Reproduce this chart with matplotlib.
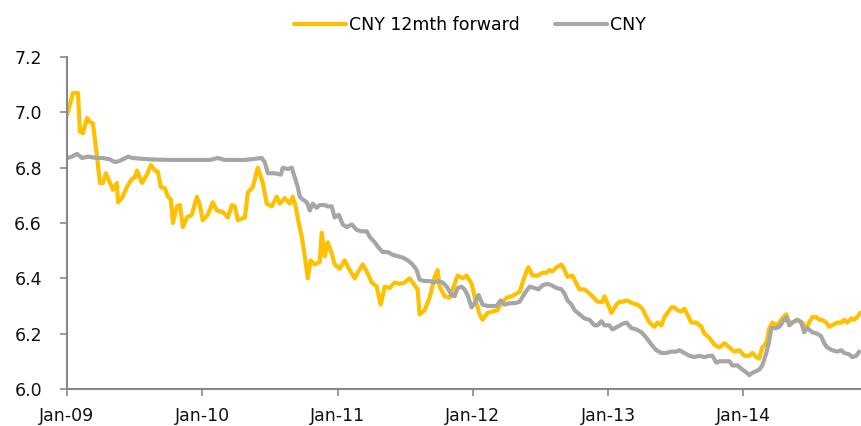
import matplotlib
matplotlib.use("Agg")
from matplotlib import pyplot as plt

# decimal years (weekly-ish readings)
fwd_t = [2009.000, 2009.044, 2009.081, 2009.096, 2009.118, 2009.148, 2009.170, 2009.192,
         2009.222, 2009.244, 2009.266, 2009.288, 2009.318, 2009.340, 2009.369, 2009.377,
         2009.406, 2009.443, 2009.480, 2009.502, 2009.517, 2009.554, 2009.591, 2009.620,
         2009.650, 2009.672, 2009.694, 2009.724, 2009.746, 2009.768, 2009.783, 2009.812,
         2009.835, 2009.857, 2009.886, 2009.923, 2009.960, 2009.982, 2010.004, 2010.041,
         2010.078, 2010.108, 2010.152, 2010.189, 2010.219, 2010.241, 2010.263, 2010.315,
         2010.337, 2010.374, 2010.411, 2010.448, 2010.477, 2010.514, 2010.551, 2010.573,
         2010.610, 2010.647, 2010.669, 2010.691, 2010.713, 2010.736, 2010.758, 2010.780,
         2010.802, 2010.832, 2010.869, 2010.883, 2010.905, 2010.928, 2010.957, 2010.979,
         2011.016, 2011.053, 2011.090, 2011.127, 2011.149, 2011.186, 2011.216, 2011.253,
         2011.290, 2011.319, 2011.349, 2011.386, 2011.422, 2011.459, 2011.496, 2011.533,
         2011.570, 2011.592, 2011.607, 2011.644, 2011.681, 2011.718, 2011.740, 2011.755,
         2011.792, 2011.829, 2011.866, 2011.888, 2011.925, 2011.954, 2011.991, 2012.013,
         2012.050, 2012.072, 2012.109, 2012.146, 2012.183, 2012.213, 2012.250, 2012.287,
         2012.324, 2012.346, 2012.368, 2012.397, 2012.412, 2012.442, 2012.479, 2012.516,
         2012.545, 2012.567, 2012.589, 2012.619, 2012.656, 2012.678, 2012.700, 2012.737,
         2012.767, 2012.789, 2012.826, 2012.863, 2012.885, 2012.922, 2012.959, 2012.973,
         2012.996, 2013.025, 2013.062, 2013.084, 2013.106, 2013.143, 2013.180, 2013.217,
         2013.254, 2013.284, 2013.306, 2013.343, 2013.365, 2013.394, 2013.417, 2013.439,
         2013.468, 2013.490, 2013.513, 2013.542, 2013.564, 2013.586, 2013.616, 2013.653,
         2013.690, 2013.712, 2013.749, 2013.786, 2013.823, 2013.860, 2013.897, 2013.934,
         2013.971, 2014.007, 2014.044, 2014.067, 2014.096, 2014.118, 2014.140, 2014.170,
         2014.192, 2014.214, 2014.244, 2014.266, 2014.288, 2014.318, 2014.340, 2014.362,
         2014.399, 2014.436, 2014.465, 2014.487, 2014.510, 2014.539, 2014.561, 2014.583,
         2014.613, 2014.635, 2014.657, 2014.694, 2014.724, 2014.746, 2014.768, 2014.798,
         2014.820, 2014.842, 2014.864]
fwd = [6.99, 7.07, 7.07, 6.93, 6.925, 6.98, 6.965, 6.96,
       6.84, 6.745, 6.745, 6.78, 6.745, 6.72, 6.745, 6.675,
       6.69, 6.73, 6.76, 6.765, 6.79, 6.745, 6.775, 6.81,
       6.79, 6.785, 6.73, 6.725, 6.695, 6.685, 6.60, 6.66,
       6.665, 6.585, 6.62, 6.63, 6.695, 6.665, 6.61, 6.63,
       6.675, 6.645, 6.64, 6.62, 6.665, 6.66, 6.61, 6.62,
       6.71, 6.73, 6.80, 6.745, 6.67, 6.66, 6.695, 6.67,
       6.69, 6.67, 6.695, 6.66, 6.60, 6.55, 6.48, 6.40,
       6.465, 6.45, 6.46, 6.565, 6.48, 6.53, 6.49, 6.45,
       6.435, 6.465, 6.43, 6.40, 6.42, 6.45, 6.425, 6.385,
       6.37, 6.305, 6.37, 6.365, 6.385, 6.38, 6.385, 6.40,
       6.375, 6.36, 6.27, 6.285, 6.33, 6.405, 6.43, 6.37,
       6.335, 6.33, 6.38, 6.41, 6.40, 6.41, 6.38, 6.335,
       6.27, 6.25, 6.275, 6.28, 6.285, 6.31, 6.33, 6.335,
       6.345, 6.35, 6.385, 6.425, 6.44, 6.41, 6.41, 6.42,
       6.42, 6.43, 6.425, 6.44, 6.45, 6.43, 6.405, 6.41,
       6.38, 6.36, 6.36, 6.345, 6.335, 6.315, 6.315, 6.335,
       6.31, 6.275, 6.305, 6.315, 6.315, 6.32, 6.31, 6.305,
       6.29, 6.26, 6.24, 6.225, 6.24, 6.23, 6.26, 6.275,
       6.295, 6.295, 6.285, 6.28, 6.29, 6.27, 6.24, 6.24,
       6.225, 6.20, 6.185, 6.16, 6.15, 6.165, 6.15, 6.135,
       6.14, 6.12, 6.12, 6.13, 6.115, 6.11, 6.15, 6.165,
       6.22, 6.24, 6.23, 6.24, 6.255, 6.27, 6.24, 6.24,
       6.25, 6.24, 6.22, 6.24, 6.26, 6.26, 6.25, 6.25,
       6.24, 6.225, 6.23, 6.24, 6.24, 6.25, 6.24, 6.255,
       6.25, 6.26, 6.275]

spot_t = [2009.000, 2009.037, 2009.074, 2009.111, 2009.155, 2009.222, 2009.266, 2009.318,
          2009.355, 2009.391, 2009.451, 2009.487, 2009.613, 2009.761, 2009.908, 2010.056,
          2010.115, 2010.167, 2010.315, 2010.440, 2010.462, 2010.485, 2010.536, 2010.581,
          2010.595, 2010.632, 2010.662, 2010.684, 2010.706, 2010.721, 2010.743, 2010.773,
          2010.795, 2010.817, 2010.846, 2010.869, 2010.905, 2010.928, 2010.957, 2010.979,
          2011.009, 2011.038, 2011.068, 2011.105, 2011.142, 2011.179, 2011.216, 2011.238,
          2011.275, 2011.297, 2011.334, 2011.371, 2011.408, 2011.445, 2011.482, 2011.519,
          2011.555, 2011.585, 2011.607, 2011.644, 2011.681, 2011.718, 2011.740, 2011.777,
          2011.807, 2011.844, 2011.866, 2011.888, 2011.917, 2011.939, 2011.961, 2011.991,
          2012.013, 2012.043, 2012.072, 2012.109, 2012.146, 2012.176, 2012.205, 2012.235,
          2012.272, 2012.309, 2012.346, 2012.383, 2012.420, 2012.457, 2012.486, 2012.516,
          2012.553, 2012.582, 2012.619, 2012.656, 2012.678, 2012.700, 2012.730, 2012.752,
          2012.789, 2012.826, 2012.863, 2012.900, 2012.922, 2012.951, 2012.973, 2013.010,
          2013.033, 2013.069, 2013.106, 2013.136, 2013.173, 2013.210, 2013.247, 2013.284,
          2013.321, 2013.357, 2013.394, 2013.431, 2013.468, 2013.505, 2013.527, 2013.564,
          2013.601, 2013.638, 2013.675, 2013.712, 2013.749, 2013.771, 2013.801, 2013.823,
          2013.860, 2013.897, 2013.919, 2013.956, 2013.993, 2014.022, 2014.044, 2014.067,
          2014.096, 2014.118, 2014.140, 2014.170, 2014.192, 2014.207, 2014.244, 2014.266,
          2014.288, 2014.318, 2014.340, 2014.362, 2014.399, 2014.428, 2014.450, 2014.473,
          2014.510, 2014.546, 2014.576, 2014.598, 2014.620, 2014.657, 2014.694, 2014.724,
          2014.746, 2014.783, 2014.805, 2014.835, 2014.857]
spot = [6.835, 6.84, 6.85, 6.835, 6.84, 6.835, 6.835, 6.83,
        6.82, 6.825, 6.84, 6.835, 6.83, 6.828, 6.828, 6.828,
        6.835, 6.828, 6.828, 6.835, 6.82, 6.78, 6.78, 6.775,
        6.80, 6.795, 6.80, 6.765, 6.73, 6.695, 6.685, 6.675,
        6.645, 6.67, 6.655, 6.665, 6.665, 6.66, 6.66, 6.62,
        6.63, 6.595, 6.585, 6.595, 6.575, 6.57, 6.57, 6.55,
        6.53, 6.515, 6.495, 6.495, 6.485, 6.48, 6.475, 6.465,
        6.45, 6.43, 6.395, 6.39, 6.39, 6.385, 6.39, 6.385,
        6.37, 6.34, 6.335, 6.365, 6.37, 6.36, 6.34, 6.295,
        6.31, 6.34, 6.305, 6.30, 6.30, 6.30, 6.32, 6.305,
        6.31, 6.31, 6.315, 6.345, 6.37, 6.365, 6.36, 6.375,
        6.38, 6.375, 6.365, 6.36, 6.345, 6.32, 6.305, 6.285,
        6.27, 6.255, 6.25, 6.23, 6.23, 6.245, 6.23, 6.23,
        6.215, 6.225, 6.235, 6.24, 6.22, 6.215, 6.205, 6.185,
        6.16, 6.14, 6.13, 6.13, 6.135, 6.135, 6.14, 6.13,
        6.12, 6.115, 6.12, 6.115, 6.12, 6.12, 6.095, 6.10,
        6.10, 6.10, 6.085, 6.085, 6.07, 6.06, 6.05, 6.058,
        6.065, 6.07, 6.085, 6.13, 6.175, 6.22, 6.22, 6.225,
        6.24, 6.26, 6.23, 6.24, 6.25, 6.24, 6.205, 6.22,
        6.205, 6.20, 6.19, 6.165, 6.15, 6.14, 6.135, 6.14,
        6.13, 6.125, 6.115, 6.12, 6.135]

years = [2009, 2010, 2011, 2012, 2013, 2014]
year_labels = ['Jan-09', 'Jan-10', 'Jan-11', 'Jan-12', 'Jan-13', 'Jan-14']
y_ticks = [6.0, 6.2, 6.4, 6.6, 6.8, 7.0, 7.2]

plt.rcParams['font.family'] = 'DejaVu Sans'
fig = plt.figure(figsize=(8.61, 4.26), dpi=100)
ax = fig.add_axes([0.0778, 0.087, 0.9222, 0.779])

ax.plot(fwd_t, fwd, color='#FFC000', lw=3, label='CNY 12mth forward', solid_capstyle='round')
ax.plot(spot_t, spot, color='#A6A6A6', lw=3, label='CNY', solid_capstyle='round')

ax.set_xlim(2009, 2014.87)
ax.set_ylim(6.0, 7.2)
ax.set_xticks(years)
ax.set_xticklabels(year_labels)
ax.set_yticks(y_ticks)
ax.set_yticklabels(['%.1f' % v for v in y_ticks])

for s in ['top', 'right']:
    ax.spines[s].set_visible(False)
for s in ['left', 'bottom']:
    ax.spines[s].set_color('#888888')
    ax.spines[s].set_linewidth(1.5)
ax.tick_params(axis='y', direction='out', length=5, width=1.2, color='#888888',
               labelsize=12.5, pad=13, labelcolor='#111111')
ax.tick_params(axis='x', direction='out', length=5, width=1.2, color='#888888',
               labelsize=12.5, pad=8, labelcolor='#111111')

fig.legend(loc='center', bbox_to_anchor=(0.546, 0.941), ncol=2, frameon=False,
           fontsize=12.5, handlelength=3.0, handletextpad=0.2, columnspacing=2.0)

fig.savefig('out.png', dpi=100)
